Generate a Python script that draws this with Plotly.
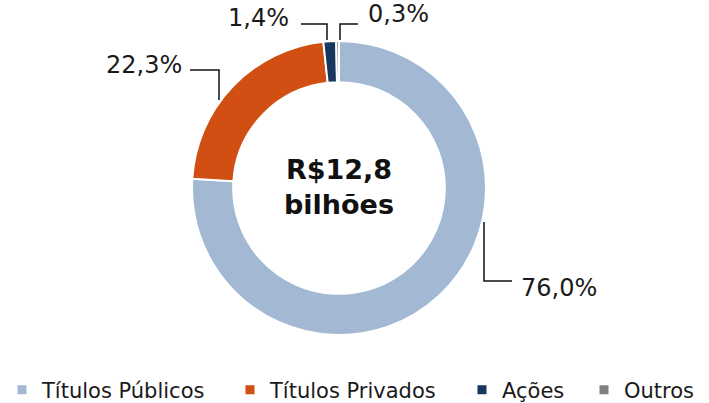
import plotly.graph_objects as go

# data
categories = ["Títulos Públicos", "Títulos Privados", "Ações", "Outros"]
shares = [76.0, 22.3, 1.4, 0.3]
colors = ["#A3B9D3", "#D14F13", "#17375E", "#808080"]
total_label = "R$12,8<br>bilhões"

W, H = 709, 403
FONT = "DejaVu Sans"
TXT = "#1A1A1A"

# donut geometry in pixels
cx, cy, r = 339, 188, 147


def px(x):
    return x / W


def py(y):
    return 1 - y / H


fig = go.Figure(go.Pie(
    labels=categories,
    values=shares,
    marker=dict(colors=colors, line=dict(color="white", width=2)),
    hole=0.72,
    sort=False,
    direction="clockwise",
    rotation=0,
    textinfo="none",
    hoverinfo="label+percent",
    showlegend=False,
    domain=dict(x=[px(cx - r), px(cx + r)], y=[py(cy + r), py(cy - r)]),
))

# label placement (text anchor, leader line path) per slice, in pixels
label_layout = [
    dict(x=519, y=288, xanchor="left", path=[(484, 222), (484, 281), (512, 281)]),
    dict(x=184, y=65, xanchor="right", path=[(190, 70), (219, 70), (219, 100)]),
    dict(x=291, y=18, xanchor="right", path=[(301, 24), (327, 24), (327, 40)]),
    dict(x=366, y=14, xanchor="left", path=[(340, 40), (340, 24), (358, 24)]),
]

for v, lay in zip(shares, label_layout):
    fig.add_annotation(
        x=px(lay["x"]), y=py(lay["y"]), xref="paper", yref="paper",
        text=f"{v:.1f}%".replace(".", ","), showarrow=False,
        xanchor=lay["xanchor"], yanchor="middle",
        font=dict(family=FONT, size=24, color=TXT),
    )
    pts = lay["path"]
    d = "M " + " L ".join(f"{px(a)},{py(b)}" for a, b in pts)
    fig.add_shape(type="path", path=d, xref="paper", yref="paper",
                  line=dict(color="#111111", width=1.5))

fig.add_annotation(
    x=px(cx), y=py(cy - 1), xref="paper", yref="paper",
    text=f"<b>{total_label}</b>", showarrow=False,
    xanchor="center", yanchor="middle",
    font=dict(family=FONT, size=27, color="#111111"),
)

# legend: one entry per category, each in its own legend box
legend_x = [2, 230, 462, 584]
layout_legends = {}
for i, (name, col, lx) in enumerate(zip(categories, colors, legend_x)):
    key = "legend" if i == 0 else f"legend{i + 1}"
    fig.add_trace(go.Scatter(
        x=[None], y=[None], mode="markers", name=name,
        marker=dict(symbol="square", size=9, color=col),
        legend=key, showlegend=True, hoverinfo="skip",
    ))
    layout_legends[key] = dict(
        orientation="h", x=px(lx), xanchor="left", y=py(390), yanchor="middle",
        font=dict(family=FONT, size=21, color=TXT),
        itemwidth=30, bgcolor="rgba(0,0,0,0)",
    )

fig.update_layout(
    width=W, height=H,
    margin=dict(l=0, r=0, t=0, b=0, autoexpand=False),
    paper_bgcolor="white",
    plot_bgcolor="white",
    xaxis=dict(visible=False),
    yaxis=dict(visible=False),
    **layout_legends,
)

# drop the browser's default body margin so the figure sits at the page origin
fig.write_html("out.html", config={"displayModeBar": False},
               post_script="document.body.style.margin='0';")
